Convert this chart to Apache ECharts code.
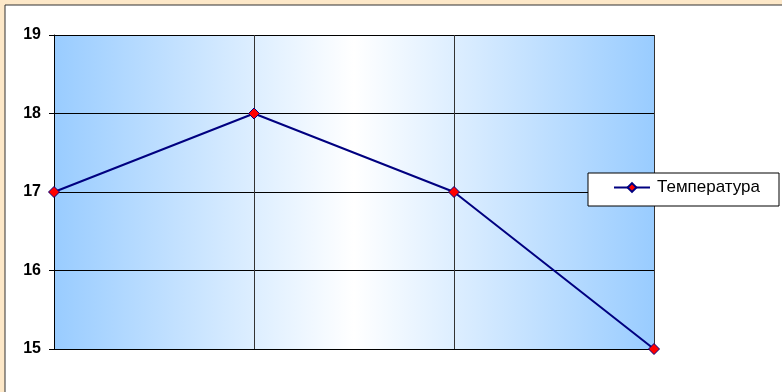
<!DOCTYPE html>
<html>
<head>
<meta charset="utf-8">
<script src="https://cdn.jsdelivr.net/npm/echarts@6/dist/echarts.min.js"></script>
<style>
html,body{margin:0;padding:0;background:#FDE8C8;}
#c{width:782px;height:392px;}
</style>
</head>
<body>
<div id="c"></div>
<script>
const categories = ['1', '2', '3', '4'];
const temperature = [17, 18, 17, 15];
const seriesName = 'Температура';
const yMin = 15, yMax = 19, yStep = 1;

const chart = echarts.init(document.getElementById('c'), null, {renderer: 'canvas'});
chart.setOption({
  backgroundColor: '#FDE8C8',
  animation: false,
  graphic: [{
    type: 'rect',
    left: 4.5, top: 4.5,
    shape: {width: 800, height: 400},
    style: {fill: '#FFFFFF', stroke: '#333333', lineWidth: 1},
    z: -10
  }, {
    type: 'rect',
    left: 587.5, top: 172.5,
    shape: {width: 191, height: 33},
    style: {fill: '#FFFFFF', stroke: '#000000', lineWidth: 1},
    z: 1
  }],
  grid: {
    left: 54, right: 128, top: 35, bottom: 43,
    show: true,
    borderWidth: 0,
    backgroundColor: {
      type: 'linear', x: 0, y: 0, x2: 1, y2: 0,
      colorStops: [
        {offset: 0, color: '#99CCFF'},
        {offset: 0.5, color: '#FFFFFF'},
        {offset: 1, color: '#99CCFF'}
      ]
    }
  },
  legend: {
    show: true,
    left: 613, top: 179,
    orient: 'vertical',
    padding: 0,
    itemWidth: 36,
    itemHeight: 11,
    itemGap: 0,
    z: 10,
    textStyle: {color: '#000000', fontSize: 17, fontFamily: 'Liberation Sans, Arial, sans-serif', padding: [0, 0, 0, 2]},
    data: [{name: seriesName}]
  },
  xAxis: {
    type: 'category',
    data: categories,
    boundaryGap: false,
    axisLine: {show: true, lineStyle: {color: '#000000', width: 1}},
    axisTick: {show: false},
    axisLabel: {show: false},
    splitLine: {show: true, lineStyle: {color: '#333333', width: 1}}
  },
  yAxis: {
    type: 'value',
    min: yMin, max: yMax, interval: yStep,
    axisLine: {show: true, lineStyle: {color: '#000000', width: 1}},
    axisTick: {show: true, inside: false, length: 5, lineStyle: {color: '#000000'}},
    axisLabel: {color: '#000000', fontSize: 16, fontWeight: 'bold', margin: 13,
      fontFamily: 'Liberation Sans, Arial, sans-serif'},
    splitLine: {show: true, lineStyle: {color: '#000000', width: 1}}
  },
  series: [{
    name: seriesName,
    type: 'line',
    data: temperature,
    lineStyle: {color: '#000080', width: 2},
    itemStyle: {color: '#FF0000', borderColor: '#000080', borderWidth: 1},
    symbol: 'diamond',
    symbolSize: 11,
    showSymbol: true,
    z: 5
  }]
});
</script>
</body>
</html>
